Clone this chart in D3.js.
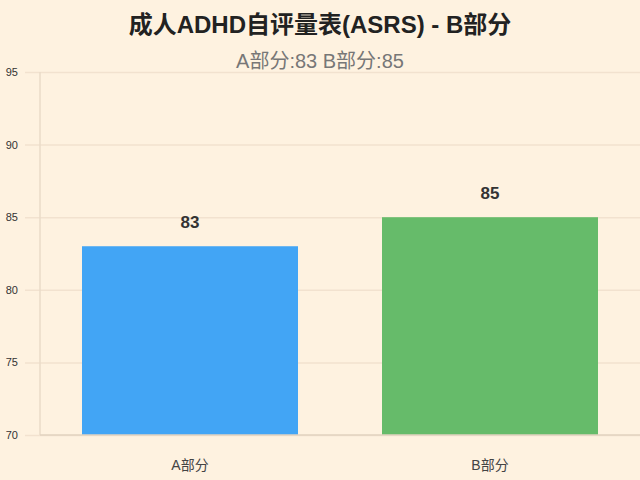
<!DOCTYPE html>
<html>
<head>
<meta charset="utf-8">
<script src="https://cdn.jsdelivr.net/npm/d3@7"></script>
<style>
  html, body { margin: 0; padding: 0; background: #fef2e0; }
  svg { display: block; font-family: "Liberation Sans", Arial, "Noto Sans CJK SC", sans-serif; }
</style>
</head>
<body>
<div id="chart"></div>
<script>
var categories = ["A部分", "B部分"];
var scores = [83, 85];
var barColors = ["#42a5f5", "#66bb6a"];
var yTicks = [70, 75, 80, 85, 90, 95];
var titleText = "成人ADHD自评量表(ASRS) - B部分";
var subtitleText = "A部分:83 B部分:85";

var W = 640, H = 480;
var margin = {top: 72, right: 0, bottom: 45, left: 40};

var svg = d3.select("#chart").append("svg")
    .attr("width", W)
    .attr("height", H);

svg.append("rect")
    .attr("width", W).attr("height", H)
    .attr("fill", "#fef2e0");

var x = d3.scaleBand()
    .domain(categories)
    .range([margin.left, W - margin.right])
    .paddingInner(0.28)
    .paddingOuter(0.14);

var y = d3.scaleLinear()
    .domain([70, 95])
    .range([H - margin.bottom, margin.top]);

// grid + y ticks
var yAxis = d3.axisLeft(y)
    .tickValues(yTicks)
    .tickSize(-(W - margin.left - margin.right))
    .tickPadding(22);

var gy = svg.append("g")
    .attr("transform", "translate(" + margin.left + ",0)")
    .call(yAxis);
gy.select(".domain").remove();
gy.selectAll(".tick line")
    .attr("x1", -15)
    .attr("stroke", "#f2e2cf")
    .attr("stroke-width", 1.5);
gy.selectAll(".tick text")
    .attr("fill", "#333")
    .style("font-size", "11px");

// y axis line
svg.append("line")
    .attr("x1", margin.left).attr("x2", margin.left)
    .attr("y1", margin.top).attr("y2", H - margin.bottom)
    .attr("stroke", "#eadbc8")
    .attr("stroke-width", 1.5);

// bars
svg.selectAll(".bar")
    .data(scores)
  .enter().append("rect")
    .attr("class", "bar")
    .attr("x", function(d, i) { return x(categories[i]); })
    .attr("width", x.bandwidth())
    .attr("y", function(d) { return y(d); })
    .attr("height", function(d) { return y(70) - y(d); })
    .attr("fill", function(d, i) { return barColors[i]; });

// x axis line
svg.append("line")
    .attr("x1", margin.left).attr("x2", W - margin.right)
    .attr("y1", y(70)).attr("y2", y(70))
    .attr("stroke", "#e2d3c0")
    .attr("stroke-width", 1.5);

// value labels
svg.selectAll(".val")
    .data(scores)
  .enter().append("text")
    .attr("class", "val")
    .attr("x", function(d, i) { return x(categories[i]) + x.bandwidth() / 2; })
    .attr("y", function(d) { return y(d) - 18; })
    .attr("text-anchor", "middle")
    .attr("fill", "#333")
    .style("font-size", "17px")
    .style("font-weight", "bold")
    .text(function(d) { return d; });

// category labels
svg.selectAll(".cat")
    .data(categories)
  .enter().append("text")
    .attr("class", "cat")
    .attr("x", function(d) { return x(d) + x.bandwidth() / 2; })
    .attr("y", H - 10)
    .attr("text-anchor", "middle")
    .attr("fill", "#444")
    .style("font-size", "14px")
    .text(function(d) { return d; });

// title
svg.append("text")
    .attr("x", W / 2)
    .attr("y", 33)
    .attr("text-anchor", "middle")
    .attr("fill", "#222")
    .style("font-size", "24px")
    .style("font-weight", "bold")
    .text(titleText);

svg.append("text")
    .attr("x", W / 2)
    .attr("y", 68)
    .attr("text-anchor", "middle")
    .attr("fill", "#777")
    .style("font-size", "20px")
    .text(subtitleText);
</script>
</body>
</html>
